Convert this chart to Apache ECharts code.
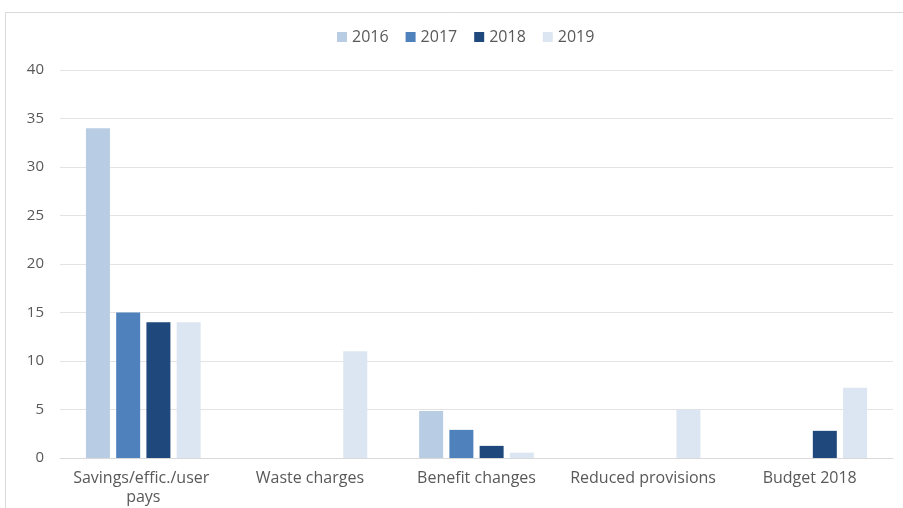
<!DOCTYPE html>
<html>
<head>
<meta charset="utf-8">
<script src="https://cdn.jsdelivr.net/npm/echarts@6/dist/echarts.min.js"></script>
<style>
  html, body { margin: 0; padding: 0; background: #ffffff; }
  #chart { width: 903px; height: 508px; }
</style>
</head>
<body>
<div id="chart"></div>
<script>
// Categories and yearly values
const categories = ['Savings/effic./user pays', 'Waste charges', 'Benefit changes', 'Reduced provisions', 'Budget 2018'];
const years = ['2016', '2017', '2018', '2019'];
const values2016 = [34, null, 4.85, null, null];
const values2017 = [15, null, 2.9, null, null];
const values2018 = [14, null, 1.25, null, 2.8];
const values2019 = [14, 11, 0.55, 5, 7.25];
const yTicks = { min: 0, max: 40, interval: 5 };

const colors = ['#B8CCE4', '#4F81BD', '#1F497D', '#DCE6F2'];
const seriesValues = [values2016, values2017, values2018, values2019];
const fontFamily = '"Open Sans", "Noto Sans", sans-serif';

const chart = echarts.init(document.getElementById('chart'), null, { renderer: 'canvas' });

chart.setOption({
  animation: false,
  backgroundColor: '#ffffff',
  color: colors,
  graphic: [{
    type: 'rect',
    shape: { x: 5.5, y: 12.5, width: 940, height: 540 },
    style: { fill: 'none', stroke: '#d9d9d9', lineWidth: 1 },
    silent: true
  }],
  legend: {
    top: 24,
    left: 332,
    itemWidth: 10,
    itemHeight: 10,
    itemGap: 17,
    icon: 'rect',
    textStyle: { color: '#595959', fontSize: 16, fontFamily: fontFamily },
    data: years
  },
  grid: { left: 60, right: 10, top: 70, bottom: 50, containLabel: false },
  xAxis: {
    type: 'category',
    data: categories,
    axisLine: { lineStyle: { color: '#d9d9d9', width: 1 } },
    axisTick: { show: false },
    axisLabel: {
      interval: 0,
      color: '#595959',
      fontSize: 16,
      fontFamily: fontFamily,
      margin: 11,
      width: 150,
      overflow: 'break',
      lineHeight: 19
    }
  },
  yAxis: {
    type: 'value',
    min: yTicks.min,
    max: yTicks.max,
    interval: yTicks.interval,
    axisLine: { show: false },
    axisTick: { show: false },
    splitLine: { lineStyle: { color: '#e3e3e3', width: 1 } },
    axisLabel: { color: '#595959', fontSize: 15, fontFamily: fontFamily, margin: 16 }
  },
  series: years.map((y, i) => ({
    name: y,
    type: 'bar',
    data: seriesValues[i],
    barWidth: 24,
    barGap: '26%',
    itemStyle: { color: colors[i] }
  }))
});
</script>
</body>
</html>
